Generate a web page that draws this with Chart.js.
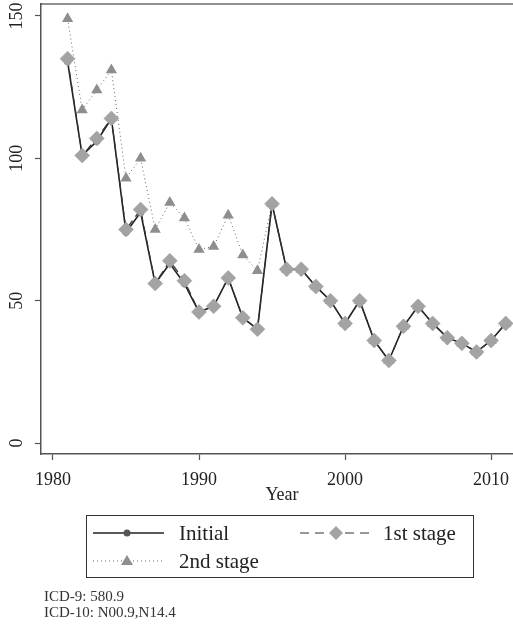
<!DOCTYPE html>
<html>
<head>
<meta charset="utf-8">
<script src="https://cdn.jsdelivr.net/npm/chart.js@4"></script>
<style>
  html, body { margin: 0; padding: 0; background: #fff; }
  #wrap { width: 513px; height: 627px; }
</style>
</head>
<body>
<div id="wrap"><canvas id="myChart" width="513" height="627"></canvas></div>
<script>
const years = [1981, 1982, 1983, 1984, 1985, 1986, 1987, 1988, 1989, 1990,
    1991, 1992, 1993, 1994, 1995, 1996, 1997, 1998, 1999, 2000,
    2001, 2002, 2003, 2004, 2005, 2006, 2007, 2008, 2009, 2010, 2011];

const initial = [134, 101, 106, 114, 74, 81, 56, 63, 56, 46,
    48, 58, 44, 40, 84, 61, 61, 55, 50, 42,
    50, 36, 29, 41, 48, 42, 37, 35, 32, 36, 42];

const stage1 = [135, 101, 107, 114, 75, 82, 56, 64, 57, 46,
    48, 58, 44, 40, 84, 61, 61, 55, 50, 42,
    50, 36, 29, 41, 48, 42, 37, 35, 32, 36, 42];

const stage2 = [149, 117, 124, 131, 93, 100, 75, 84.5, 79, 68,
    69, 80, 66, 60.5, 84, 61, 61, 55, 50, 42,
    50, 36, 29, 41, 48, 42, 37, 35, 32, 36, 42];

const xTicks = [1980, 1990, 2000, 2010];
const yTicks = [0, 50, 100, 150];

const serif = "'Liberation Serif', 'DejaVu Serif', serif";
const axisColor = '#555';

const toPoints = (vals) => vals.map((v, i) => ({ x: years[i], y: v }));

// draws the bits Stata puts around the plot: rotated y labels, axis title, legend box, notes
const decorations = {
    id: 'decorations',
    afterDraw(chart) {
        const ctx = chart.ctx;
        const area = chart.chartArea;
        const ys = chart.scales.y;
        ctx.save();

        // top border of plot region
        ctx.strokeStyle = '#222';
        ctx.lineWidth = 1.2;
        ctx.beginPath();
        ctx.moveTo(area.left, area.top);
        ctx.lineTo(chart.width, area.top);
        ctx.stroke();

        // y tick labels, rotated
        ctx.fillStyle = '#222';
        ctx.font = '18px ' + serif;
        ctx.textAlign = 'center';
        ctx.textBaseline = 'middle';
        yTicks.forEach(v => {
            const py = ys.getPixelForValue(v);
            ctx.save();
            ctx.translate(17, py);
            ctx.rotate(-Math.PI / 2);
            ctx.fillText(String(v), 0, 0);
            ctx.restore();
        });

        // x axis title
        ctx.fillText('Year', 282, 495);

        // legend box
        ctx.strokeStyle = '#333';
        ctx.lineWidth = 1;
        ctx.strokeRect(86.5, 515.5, 387, 62);

        ctx.font = '21px ' + serif;
        ctx.textAlign = 'left';

        // Initial
        ctx.strokeStyle = '#222';
        ctx.lineWidth = 1.6;
        ctx.beginPath();
        ctx.moveTo(93, 533);
        ctx.lineTo(164, 533);
        ctx.stroke();
        ctx.fillStyle = '#555';
        ctx.beginPath();
        ctx.arc(127, 533, 3.5, 0, Math.PI * 2);
        ctx.fill();
        ctx.fillStyle = '#222';
        ctx.fillText('Initial', 179, 534);

        // 1st stage
        ctx.strokeStyle = '#333';
        ctx.lineWidth = 1.2;
        ctx.setLineDash([9, 6]);
        ctx.beginPath();
        ctx.moveTo(300, 533);
        ctx.lineTo(371, 533);
        ctx.stroke();
        ctx.setLineDash([]);
        ctx.fillStyle = '#a3a3a3';
        ctx.beginPath();
        ctx.moveTo(336, 526);
        ctx.lineTo(343, 533);
        ctx.lineTo(336, 540);
        ctx.lineTo(329, 533);
        ctx.closePath();
        ctx.fill();
        ctx.fillStyle = '#222';
        ctx.fillText('1st stage', 383, 534);

        // 2nd stage
        ctx.strokeStyle = '#666';
        ctx.lineWidth = 1;
        ctx.setLineDash([1, 3]);
        ctx.beginPath();
        ctx.moveTo(93, 561);
        ctx.lineTo(164, 561);
        ctx.stroke();
        ctx.setLineDash([]);
        ctx.fillStyle = '#8e8e8e';
        ctx.beginPath();
        ctx.moveTo(127, 555);
        ctx.lineTo(133, 565);
        ctx.lineTo(121, 565);
        ctx.closePath();
        ctx.fill();
        ctx.fillStyle = '#222';
        ctx.fillText('2nd stage', 179, 562);

        // notes
        ctx.font = '15px ' + serif;
        ctx.fillStyle = '#333';
        ctx.fillText('ICD-9: 580.9', 44, 597);
        ctx.fillText('ICD-10: N00.9,N14.4', 44, 613);

        ctx.restore();
    }
};

const data = {
    datasets: [
        {
            label: 'Initial',
            data: toPoints(initial),
            borderColor: '#1e1e1e',
            borderWidth: 1.6,
            pointStyle: 'circle',
            pointRadius: 3.5,
            pointBackgroundColor: '#555',
            pointBorderWidth: 0,
            order: 2,
        },
        {
            label: '1st stage',
            data: toPoints(stage1),
            borderColor: '#333',
            borderWidth: 1.2,
            borderDash: [8, 5],
            pointStyle: 'rectRot',
            pointRadius: 7.5,
            pointBackgroundColor: '#a3a3a3',
            pointBorderColor: '#9a9a9a',
            pointBorderWidth: 0.5,
            order: 1,
        },
        {
            label: '2nd stage',
            data: toPoints(stage2),
            borderColor: '#666',
            borderWidth: 1,
            borderDash: [1, 3],
            pointStyle: 'triangle',
            pointRadius: 6.5,
            pointBackgroundColor: '#8e8e8e',
            pointBorderWidth: 0,
            order: 3,
        }
    ],
};

const config = {
    type: 'line',
    data: data,
    plugins: [decorations],
    options: {
        responsive: false,
        animation: false,
        layout: {
            autoPadding: false,
            padding: { top: 4, right: 0, left: 0, bottom: 0 },
        },
        plugins: {
            legend: { display: false },
            tooltip: { enabled: false },
        },
        scales: {
            x: {
                type: 'linear',
                min: 1979.18,
                max: 2011.5,
                afterBuildTicks: (scale) => {
                    scale.ticks = xTicks.map(v => ({ value: v }));
                },
                afterFit: (scale) => {
                    scale.height = 173;
                    scale.paddingLeft = 0;
                    scale.paddingRight = 0;
                },
                grid: {
                    drawOnChartArea: false,
                    color: axisColor,
                    tickLength: 6,
                    tickWidth: 1.2,
                },
                border: { color: axisColor, width: 1.5 },
                ticks: {
                    color: '#222',
                    font: { family: serif, size: 18 },
                    padding: 9,
                    maxRotation: 0,
                    callback: (v) => String(v),
                },
            },
            y: {
                min: -3.86,
                max: 154.2,
                afterBuildTicks: (scale) => {
                    scale.ticks = yTicks.map(v => ({ value: v }));
                },
                afterFit: (scale) => {
                    scale.width = 41;
                },
                grid: {
                    drawOnChartArea: false,
                    color: axisColor,
                    tickLength: 6,
                    tickWidth: 1.2,
                },
                border: { color: axisColor, width: 1.5 },
                ticks: { display: false },
            },
        },
    },
};

const ctx = document.getElementById('myChart').getContext('2d');
const myChart = new Chart(ctx, config);
</script>
</body>
</html>
